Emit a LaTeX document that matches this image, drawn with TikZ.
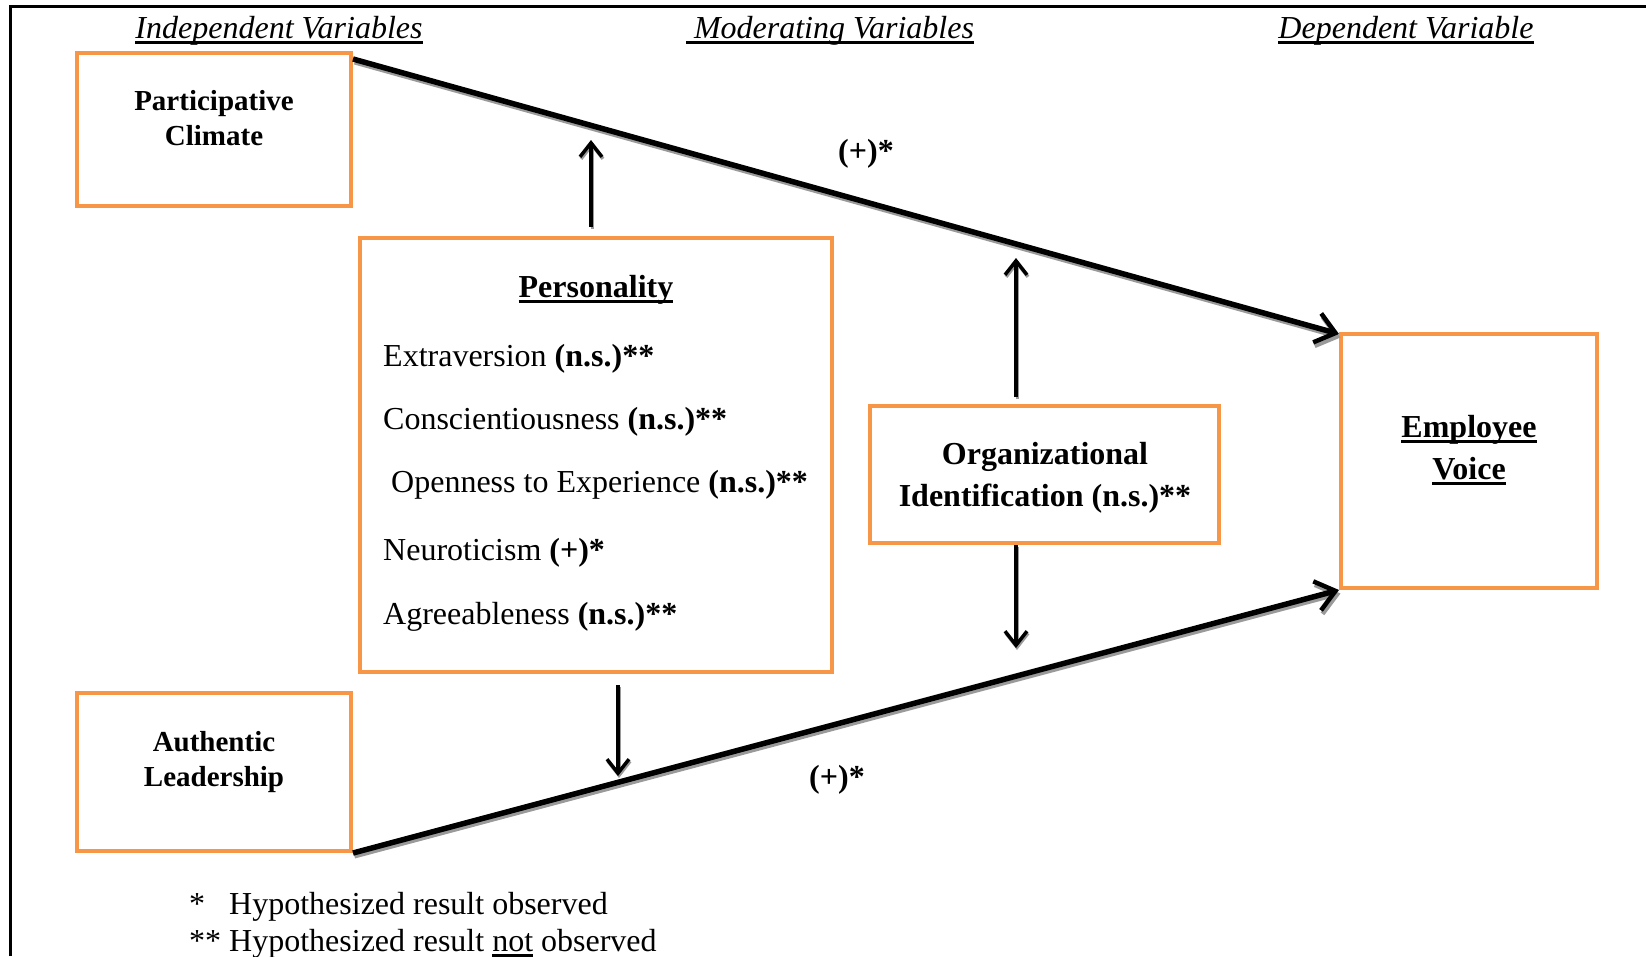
\documentclass[tikz,border=0pt]{standalone}
\usepackage{fontspec}
\setmainfont{Liberation Serif}
\newcommand{\thkul}[1]{\setbox0\hbox{#1}\leavevmode\rlap{\rule[-5pt]{\wd0}{2.2pt}}\box0\relax}
\usetikzlibrary{arrows.meta,calc}
\definecolor{boxorange}{HTML}{F79646}
\definecolor{shadowgray}{HTML}{9A9A9A}
\begin{document}
\begin{tikzpicture}[x=1pt,y=-1pt,
  box/.style={draw=boxorange,line width=4pt,inner sep=0pt,rectangle},
  txt/.style={inner sep=0pt,font=\fontsize{32}{42}\selectfont},
  smalltxt/.style={inner sep=0pt,font=\fontsize{29}{35}\selectfont\bfseries,align=center},
  bigbold/.style={inner sep=0pt,font=\fontsize{32}{42}\selectfont\bfseries,align=center},
  mainarrow/.style={line width=5.5pt,-{Straight Barb[length=19pt,width=30pt,line width=4.5pt]},
    preaction={draw=shadowgray,line width=4pt,transform canvas={shift={(1.5,3.5)}}}},
  varrow/.style={line width=3.5pt,-{Straight Barb[length=14pt,width=22pt,line width=3.5pt]},
    preaction={draw=shadowgray,line width=3pt,transform canvas={shift={(1,2)}}}}
]
\useasboundingbox (0,0) rectangle (1646,956);
% frame
\draw[line width=3pt] (10,956) -- (10,6) -- (1646,6);

% headers
\node[txt] (h1) at (279,31) {\thkul{\textit{Independent Variables}}};
\node[txt] (h2) at (830,31) {\thkul{\textit{\ Moderating Variables}}};
\node[txt] (h3) at (1406,31) {\thkul{\textit{Dependent Variable}}};

% boxes
\node[box,minimum width=274pt,minimum height=153pt] (pc) at (214,129.5) {};
\node[box,minimum width=274pt,minimum height=158pt] (al) at (214,772) {};
\node[box,minimum width=472pt,minimum height=434pt] (pers) at (596,455) {};
\node[box,minimum width=349pt,minimum height=137pt] (oi) at (1044.5,474.5) {};
\node[box,minimum width=256pt,minimum height=254pt] (ev) at (1469,461) {};

% box texts
\node[smalltxt] (pctxt) at (214,118) {Participative\\Climate};
\node[smalltxt] (altxt) at (214,762) {Authentic\\Leadership};
\node[bigbold] (oitxt) at (1045,478) {Organizational\\Identification (n.s.)**};
\node[bigbold] (evtxt) at (1469,450) {\thkul{Employee}\\\thkul{Voice}};

% personality
\node[bigbold] (perst) at (596,290) {\thkul{Personality}};
\node[txt,anchor=west] (p1) at (383,358.5) {Extraversion \textbf{(n.s.)**}};
\node[txt,anchor=west] (p2) at (383,421.5) {Conscientiousness \textbf{(n.s.)**}};
\node[txt,anchor=west] (p3) at (391,484.5) {Openness to Experience \textbf{(n.s.)**}};
\node[txt,anchor=west] (p4) at (383,552.5) {Neuroticism \textbf{(+)*}};
\node[txt,anchor=west] (p5) at (383,616.5) {Agreeableness \textbf{(n.s.)**}};

% main arrows
\draw[mainarrow] ([yshift=-8pt]pc.north east) -- ([yshift=-2pt]ev.north west);
\draw[mainarrow] (al.south east) -- (ev.south west);

% labels on main arrows
\node[bigbold] (lt) at (866,154) {(+)*};
\node[bigbold] (lb) at (837,780) {(+)*};

% moderator arrows
\coordinate (pu) at (591,140);
\coordinate (pd) at (618,776);
\coordinate (ou) at (1016,258);
\coordinate (od) at (1016,648);
\draw[varrow] ([xshift=-5pt,yshift=9pt]pers.north) -- (pu);
\draw[varrow] ([xshift=22pt,yshift=-11pt]pers.south) -- (pd);
\draw[varrow] ([xshift=-28.5pt,yshift=7pt]oi.north) -- (ou);
\draw[varrow] ([xshift=-28.5pt]oi.south) -- (od);

% footnotes
\node[txt,anchor=west] (f1) at (189,907) {\makebox[40pt][l]{*}Hypothesized result observed};
\node[txt,anchor=west] (f2) at (189,944) {\makebox[40pt][l]{**}Hypothesized result \thkul{not} observed};
\end{tikzpicture}
\end{document}
